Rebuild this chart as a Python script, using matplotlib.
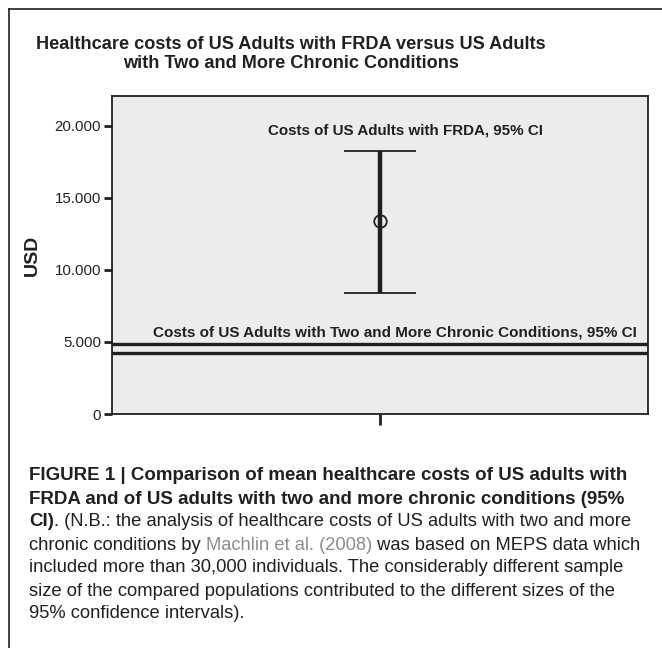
import matplotlib
matplotlib.use("Agg")
import matplotlib.pyplot as plt
from matplotlib.lines import Line2D
from matplotlib.ticker import FuncFormatter

# data (USD)
frda_mean = 13400
frda_ci = (8400, 18260)
chronic_ci = (4230, 4850)
categories = [""]
y_ticks = [0, 5000, 10000, 15000, 20000]

title = ("Healthcare costs of US Adults with FRDA versus US Adults\n"
         "with Two and More Chronic Conditions")
frda_label = "Costs of US Adults with FRDA, 95% CI"
chronic_label = "Costs of US Adults with Two and More Chronic Conditions, 95% CI"

ink = "#231f20"
plt.rcParams["font.family"] = ["Liberation Sans", "DejaVu Sans"]

fig = plt.figure(figsize=(6.62, 6.48), dpi=100)
W, H = 662, 648


def fx(px):
    return px / W


def fy(py):
    return 1 - py / H


# outer frame (left and top edges)
fig.add_artist(Line2D([fx(9), fx(9)], [fy(9), 0], color=ink, lw=1.2,
                      transform=fig.transFigure))
fig.add_artist(Line2D([fx(9), 1], [fy(9), fy(9)], color=ink, lw=1.2,
                      transform=fig.transFigure))

fig.text(fx(291), fy(54), title, ha="center", va="center",
         fontsize=13.1, fontweight="bold", color=ink, linespacing=1.12)

ax = fig.add_axes([fx(112), fy(414), fx(648) - fx(112), fy(96) - fy(414)])
ax.set_facecolor("#ececee")
for s in ax.spines.values():
    s.set_color(ink)
    s.set_linewidth(1.3)

# FRDA mean with 95% CI
x = [0]
ax.errorbar(x, [frda_mean],
            yerr=[[frda_mean - frda_ci[0]], [frda_ci[1] - frda_mean]],
            fmt="o", mfc="none", mec=ink, ms=9, mew=1.3,
            ecolor=ink, elinewidth=3.2, capsize=26, capthick=3.2)
ax.text(0.095, 19650, frda_label, ha="center", va="center",
        fontsize=10.9, fontweight="bold", color=ink)

# chronic conditions CI as two horizontal lines
for v in chronic_ci:
    ax.axhline(v, color=ink, lw=2.4)
ax.text(0.056, 5650, chronic_label, ha="center", va="center",
        fontsize=11, fontweight="bold", color=ink)

ax.set_xlim(-1, 1)
ax.set_ylim(0, 22050)
ax.set_xticks(x)
ax.set_xticklabels(categories)
ax.set_yticks(y_ticks)
ax.yaxis.set_major_formatter(FuncFormatter(lambda v, p: f"{int(v):,}".replace(",", ".")))
ax.tick_params(axis="y", length=6, width=2, color=ink, labelsize=10.8,
               labelcolor=ink, pad=2)
ax.tick_params(axis="x", length=8, width=2, color=ink)
ax.set_ylabel("USD", fontsize=14, fontweight="bold", color=ink, labelpad=10)

# caption, each line built from pieces so weight and colour can change
link = "#8a8c8e"
lines = [
    [("FIGURE 1 | Comparison of mean healthcare costs of US adults with", "bold", ink)],
    [("FRDA and of US adults with two and more chronic conditions (95%", "bold", ink)],
    [("CI)", "bold", ink),
     (". (N.B.: the analysis of healthcare costs of US adults with two and more", "normal", ink)],
    [("chronic conditions by ", "normal", ink), ("Machlin et al. (2008)", "normal", link),
     (" was based on MEPS data which", "normal", ink)],
    [("included more than 30,000 individuals. The considerably different sample", "normal", ink)],
    [("size of the compared populations contributed to the different sizes of the", "normal", ink)],
    [("95% confidence intervals).", "normal", ink)],
]
sizes = {"bold": 13.5, "normal": 13.2}
y0 = 476
for i, parts in enumerate(lines):
    last = None
    for txt, wt, col in parts:
        if last is None:
            last = fig.text(fx(29), fy(y0 + 23 * i), txt, ha="left", va="center",
                            fontsize=sizes[wt], fontweight=wt, color=col)
        else:
            last = ax.annotate(txt, xy=(1, 0), xycoords=last, ha="left",
                               va="bottom", fontsize=sizes[wt], fontweight=wt,
                               color=col, annotation_clip=False)

fig.savefig("out.png", dpi=100)
